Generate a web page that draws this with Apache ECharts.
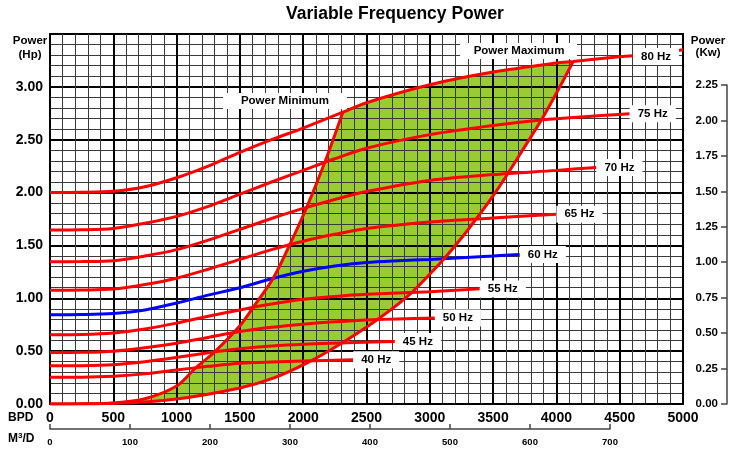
<!DOCTYPE html>
<html>
<head>
<meta charset="utf-8">
<script src="https://cdn.jsdelivr.net/npm/echarts@6/dist/echarts.min.js"></script>
<style>html,body{margin:0;padding:0;background:#fff}#chart{width:737px;height:456px}</style>
</head>
<body>
<div id="chart"></div>
<script>
// ---- data (BPD, Hp) ----
const hz40 = [[0,0.253],[250,0.254],[500,0.263],[750,0.285],[1000,0.322],[1250,0.356],[1500,0.386],[1750,0.398],[2000,0.406],[2395,0.418]];
const hz45 = [[0,0.362],[250,0.363],[500,0.372],[750,0.40],[1000,0.44],[1250,0.485],[1500,0.522],[1750,0.548],[2000,0.565],[2290,0.577],[2724,0.592]];
const hz50 = [[0,0.487],[250,0.489],[500,0.50],[750,0.532],[1000,0.575],[1250,0.63],[1500,0.685],[1750,0.725],[2000,0.755],[2250,0.778],[2553,0.798],[3040,0.814]];
const hz55 = [[0,0.655],[250,0.658],[500,0.672],[750,0.71],[1000,0.765],[1250,0.83],[1500,0.89],[1750,0.945],[2000,0.99],[2250,1.018],[2500,1.038],[3000,1.062],[3395,1.089]];
const hz60 = [[0,0.845],[250,0.847],[500,0.857],[750,0.89],[1000,0.955],[1250,1.03],[1500,1.10],[1750,1.185],[2000,1.255],[2250,1.305],[2500,1.338],[2750,1.355],[3000,1.368],[3500,1.40],[3711,1.415]];
const hz65 = [[0,1.076],[250,1.078],[500,1.087],[750,1.13],[1000,1.19],[1250,1.275],[1500,1.368],[1750,1.46],[2000,1.54],[2250,1.605],[2500,1.66],[3000,1.722],[3500,1.76],[4000,1.795]];
const hz70 = [[0,1.345],[250,1.347],[500,1.355],[750,1.40],[1000,1.46],[1250,1.55],[1500,1.652],[1750,1.755],[2000,1.85],[2250,1.935],[2500,2.01],[3000,2.115],[3500,2.17],[4000,2.21],[4316,2.238]];
const hz75 = [[0,1.646],[250,1.648],[500,1.66],[750,1.71],[1000,1.775],[1250,1.87],[1500,1.985],[1750,2.10],[2000,2.21],[2250,2.32],[2500,2.42],[3000,2.548],[3500,2.635],[3882,2.687],[4579,2.745]];
const hz80 = [[0,2.00],[250,2.002],[500,2.012],[750,2.055],[1000,2.14],[1250,2.25],[1500,2.38],[1750,2.50],[2000,2.61],[2313,2.76],[2500,2.85],[3000,3.02],[3500,3.14],[4000,3.225],[4132,3.24],[4500,3.285],[4787,3.315],[5000,3.35]];
const powerMin = [[0,0],[250,0.002],[500,0.01],[750,0.05],[1000,0.17],[1158,0.35],[1289,0.48],[1500,0.74],[1605,0.915],[1763,1.19],[1895,1.51],[2027,1.858],[2171,2.286],[2313,2.76]];
const powerMax = [[0,0],[500,0.006],[1000,0.048],[1500,0.152],[1763,0.244],[2027,0.386],[2290,0.565],[2553,0.77],[2816,1.01],[3079,1.33],[3263,1.589],[3527,2.016],[3790,2.51],[3895,2.714],[4053,3.058],[4132,3.24]];
const freqNames = ['40 Hz','45 Hz','50 Hz','55 Hz','60 Hz','65 Hz','70 Hz','75 Hz','80 Hz'];
const freqData = [hz40, hz45, hz50, hz55, hz60, hz65, hz70, hz75, hz80];
const label80At = 4787;

// ---- chart ----
const FONT = "'Liberation Sans', Arial, sans-serif";
const chart = echarts.init(document.getElementById('chart'), null, {renderer: 'canvas'});

const minEnd = powerMin[powerMin.length - 1][0];
const maxEnd = powerMax[powerMax.length - 1][0];
const fillPoly = powerMin
  .concat(hz80.filter(p => p[0] > minEnd && p[0] < maxEnd))
  .concat(powerMax.slice().reverse());

const labelStyle = {
  color: '#000', fontWeight: 'bold', fontSize: 11.5, fontFamily: FONT,
  backgroundColor: '#fff', padding: [3, 8, 2, 8]
};

const series = [];
series.push({
  type: 'custom', xAxisIndex: 0, yAxisIndex: 0, z: -1, silent: true,
  data: [[0, 0]],
  renderItem: function (params, api) {
    return {
      type: 'polygon',
      shape: {points: fillPoly.map(p => api.coord(p))},
      style: {fill: '#99cc33', stroke: null}
    };
  }
});
freqData.forEach((d, i) => {
  const is80 = freqNames[i] === '80 Hz';
  const color = freqNames[i] === '60 Hz' ? '#0000ff' : '#ff0000';
  series.push({
    type: 'line', name: freqNames[i], xAxisIndex: 0, yAxisIndex: 0,
    data: d.map(p => (is80 && p[0] === label80At)
      ? {value: p, label: Object.assign({show: true, position: 'inside', formatter: freqNames[i], offset: [0, 3]}, labelStyle)}
      : p),
    smooth: 0.3, showSymbol: is80, symbolSize: 0.01, symbol: 'circle',
    itemStyle: {color: color},
    lineStyle: {color: color, width: 3},
    label: {show: false},
    endLabel: is80 ? {show: false} : Object.assign({show: true, formatter: freqNames[i], distance: 0}, labelStyle),
    z: 3, animation: false
  });
});
[powerMin, powerMax].forEach(d => {
  series.push({
    type: 'line', xAxisIndex: 0, yAxisIndex: 0, data: d, smooth: 0.3, showSymbol: false,
    lineStyle: {color: '#ff0000', width: 3}, z: 3, animation: false
  });
});

const option = {
  animation: false,
  backgroundColor: '#fff',
  grid: [
    {left: 50, right: 54, top: 34, bottom: 52, show: true, borderColor: '#000', borderWidth: 2, backgroundColor: 'transparent'},
    {left: 50, width: 560, top: 428, height: 1},
    {left: 727, width: 1, top: 85, height: 319}
  ],
  xAxis: [
    {
      type: 'value', gridIndex: 0, min: 0, max: 5000, interval: 500,
      axisLine: {show: true, lineStyle: {color: '#000', width: 2}},
      axisTick: {show: false},
      axisLabel: {color: '#000', fontWeight: 'bold', fontSize: 14, fontFamily: FONT, margin: 7,
        formatter: v => String(v)},
      splitLine: {show: true, lineStyle: {color: '#000', width: 2}},
      minorTick: {show: false, splitNumber: 5},
      minorSplitLine: {show: true, lineStyle: {color: '#3a3a3a', width: 1}}
    },
    {
      type: 'value', gridIndex: 1, min: 0, max: 700, interval: 100, position: 'bottom',
      axisLine: {show: true, lineStyle: {color: '#444', width: 1.5}},
      axisTick: {show: true, inside: true, length: 5, lineStyle: {color: '#444', width: 1.5}},
      axisLabel: {color: '#000', fontWeight: 'bold', fontSize: 9.5, fontFamily: FONT, margin: 8,
        formatter: v => String(v)},
      splitLine: {show: false}
    },
    {type: 'value', gridIndex: 2, show: false}
  ],
  yAxis: [
    {
      type: 'value', gridIndex: 0, min: 0, max: 3.5, interval: 0.5,
      axisLine: {show: true, lineStyle: {color: '#000', width: 2}},
      axisTick: {show: false},
      axisLabel: {color: '#000', fontWeight: 'bold', fontSize: 14, fontFamily: FONT, margin: 7,
        formatter: v => v > 3.01 ? '' : v.toFixed(2)},
      splitLine: {show: true, lineStyle: {color: '#000', width: 2}},
      minorTick: {show: false, splitNumber: 5},
      minorSplitLine: {show: true, lineStyle: {color: '#3a3a3a', width: 1}}
    },
    {type: 'value', gridIndex: 1, show: false},
    {
      type: 'value', gridIndex: 2, position: 'left', min: 0, max: 2.25, interval: 0.25,
      axisLine: {show: true, lineStyle: {color: '#444', width: 1.5}},
      axisTick: {show: true, inside: false, length: 6, lineStyle: {color: '#444', width: 1.5}},
      axisLabel: {color: '#000', fontWeight: 'bold', fontSize: 11.5, fontFamily: FONT, margin: 9,
        formatter: v => v.toFixed(2)},
      splitLine: {show: false}
    }
  ],
  graphic: [
    {type: 'text', x: 395, y: 14, z: 100, style: {text: 'Variable Frequency Power', font: 'bold 17.5px ' + FONT, fill: '#000', textAlign: 'center', textVerticalAlign: 'middle'}},
    {type: 'text', x: 30, y: 41, z: 100, style: {text: 'Power', font: 'bold 11.5px ' + FONT, fill: '#000', textAlign: 'center', textVerticalAlign: 'middle'}},
    {type: 'text', x: 30, y: 55, z: 100, style: {text: '(Hp)', font: 'bold 11.5px ' + FONT, fill: '#000', textAlign: 'center', textVerticalAlign: 'middle'}},
    {type: 'text', x: 708, y: 41, z: 100, style: {text: 'Power', font: 'bold 11.5px ' + FONT, fill: '#000', textAlign: 'center', textVerticalAlign: 'middle'}},
    {type: 'text', x: 708, y: 53, z: 100, style: {text: '(Kw)', font: 'bold 11.5px ' + FONT, fill: '#000', textAlign: 'center', textVerticalAlign: 'middle'}},
    {type: 'text', x: 8, y: 418, z: 100, style: {text: 'BPD', font: 'bold 12px ' + FONT, fill: '#000', textAlign: 'left', textVerticalAlign: 'middle'}},
    {type: 'text', x: 8, y: 439, z: 100, style: {
      text: '{a|M}{s|3}{a|/D}', textAlign: 'left', textVerticalAlign: 'middle',
      rich: {a: {font: 'bold 12px ' + FONT, fill: '#000'}, s: {font: 'bold 8px ' + FONT, fill: '#000', verticalAlign: 'top', padding: [0, 0, 6, 0]}}
    }},
    {type: 'rect', z: 100, shape: {x: 223, y: 93, width: 124, height: 16}, style: {fill: '#fff'}},
    {type: 'text', x: 285, y: 101, z: 101, style: {text: 'Power Minimum', font: 'bold 11.5px ' + FONT, fill: '#000', textAlign: 'center', textVerticalAlign: 'middle'}},
    {type: 'rect', z: 100, shape: {x: 460, y: 43, width: 117, height: 16}, style: {fill: '#fff'}},
    {type: 'text', x: 519, y: 51, z: 101, style: {text: 'Power Maximum', font: 'bold 11.5px ' + FONT, fill: '#000', textAlign: 'center', textVerticalAlign: 'middle'}}
  ],
  series: series
};
chart.setOption(option);
</script>
</body>
</html>
